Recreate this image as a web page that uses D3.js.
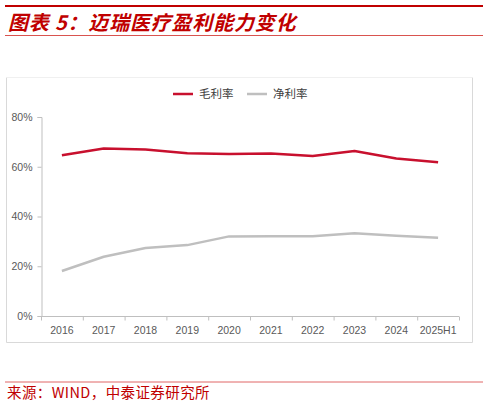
<!DOCTYPE html>
<html>
<head>
<meta charset="utf-8">
<script src="https://cdn.jsdelivr.net/npm/d3@7"></script>
<style>
  body { margin: 0; background: #fff; }
  svg { display: block; }
</style>
</head>
<body>
<div id="chart"></div>
<script>
// data
const years = ['2016', '2017', '2018', '2019', '2020', '2021', '2022', '2023', '2024', '2025H1']
const grossMargin = [64.6, 67.3, 66.9, 65.4, 65.1, 65.3, 64.3, 66.3, 63.3, 61.8]
const netMargin = [18.1, 23.8, 27.3, 28.5, 32.0, 32.1, 32.1, 33.3, 32.3, 31.5]
const yTicks = [0, 20, 40, 60, 80]
const seriesNames = ['毛利率', '净利率']

const W = 488, H = 406
const red = '#c00000'

const svg = d3.select('#chart').append('svg')
  .attr('width', W)
  .attr('height', H)

// header rules + title
svg.append('line')
  .attr('x1', 5).attr('x2', 483).attr('y1', 6).attr('y2', 6)
  .attr('stroke', red).attr('stroke-width', 2)
svg.append('text')
  .attr('x', 8).attr('y', 30)
  .attr('fill', red)
  .style('font-family', '"Noto Sans CJK SC", sans-serif')
  .style('font-size', '20px')
  .style('font-weight', 'bold')
  .style('font-style', 'italic')
  .style('letter-spacing', '0.8px')
  .text('图表 5：迈瑞医疗盈利能力变化')
svg.append('line')
  .attr('x1', 5).attr('x2', 483).attr('y1', 35.5).attr('y2', 35.5)
  .attr('stroke', '#d9534f').attr('stroke-width', 1)

// chart frame (top edge is barely visible in the original)
const frame = { x: 6.5, y: 77.5, w: 466, h: 265 }
svg.append('path')
  .attr('d', `M${frame.x},${frame.y}V${frame.y + frame.h}H${frame.x + frame.w}V${frame.y}`)
  .attr('fill', 'none').attr('stroke', '#d9d9d9')
svg.append('line')
  .attr('x1', frame.x).attr('x2', frame.x + frame.w).attr('y1', frame.y).attr('y2', frame.y)
  .attr('stroke', '#f0f0f0')

const x = d3.scaleBand()
  .domain(years)
  .range([41, 459])
  .padding(0)

const y = d3.scaleLinear()
  .domain([0, 80])
  .range([316, 117])

const axisColor = '#bfbfbf'
const labelFont = '"Liberation Sans", Arial, sans-serif'

// y axis
const yAxis = svg.append('g')
  .attr('transform', 'translate(41.5,0)')
  .call(d3.axisLeft(y).tickValues(yTicks).tickSize(4).tickPadding(5).tickFormat(d => d + '%'))
yAxis.select('.domain').attr('stroke', axisColor)
yAxis.selectAll('.tick line').attr('stroke', axisColor)
yAxis.selectAll('.tick text')
  .attr('fill', '#595959')
  .style('font-family', labelFont)
  .style('font-size', '10.5px')

// x axis: ticks on band edges, labels in band centres
const xAxis = svg.append('g')
  .attr('transform', 'translate(0,316.5)')
xAxis.append('line')
  .attr('x1', x.range()[0]).attr('x2', x.range()[1])
  .attr('stroke', axisColor)
const edges = years.map(d => x(d)).concat([x.range()[1]])
xAxis.selectAll('.edge')
  .data(edges)
  .enter().append('line')
  .attr('class', 'edge')
  .attr('x1', d => d + 0.5).attr('x2', d => d + 0.5)
  .attr('y1', 0).attr('y2', 4)
  .attr('stroke', axisColor)
xAxis.selectAll('.lbl')
  .data(years)
  .enter().append('text')
  .attr('class', 'lbl')
  .attr('x', d => x(d) + x.bandwidth() / 2)
  .attr('y', 17)
  .attr('text-anchor', 'middle')
  .attr('fill', '#595959')
  .style('font-family', labelFont)
  .style('font-size', '10.5px')
  .text(d => d)

// lines
const line = d3.line()
  .x((d, i) => x(years[i]) + x.bandwidth() / 2)
  .y(d => y(d))

const series = [
  { name: seriesNames[0], values: grossMargin, color: '#c8102e' },
  { name: seriesNames[1], values: netMargin, color: '#bfbfbf' }
]

svg.selectAll('.series')
  .data(series)
  .enter().append('path')
  .attr('class', 'series')
  .attr('d', d => line(d.values))
  .attr('fill', 'none')
  .attr('stroke', d => d.color)
  .attr('stroke-width', 2.5)
  .attr('stroke-linejoin', 'round')

// legend
const legend = svg.selectAll('.legend')
  .data(series)
  .enter().append('g')
  .attr('class', 'legend')
  .attr('transform', (d, i) => 'translate(' + (173 + i * 74) + ',94)')
legend.append('line')
  .attr('x1', 0).attr('x2', 20)
  .attr('stroke', d => d.color)
  .attr('stroke-width', 2.5)
legend.append('text')
  .attr('x', 26).attr('y', 4)
  .attr('fill', '#404040')
  .style('font-family', '"Noto Sans CJK SC", sans-serif')
  .style('font-size', '11.5px')
  .text(d => d.name)

// source
svg.append('line')
  .attr('x1', 5).attr('x2', 483).attr('y1', 382).attr('y2', 382)
  .attr('stroke', '#e06666').attr('stroke-width', 1)
svg.append('text')
  .attr('x', 7).attr('y', 398)
  .attr('fill', red)
  .style('font-family', '"Noto Sans CJK SC", sans-serif')
  .style('font-size', '14.5px')
  .style('letter-spacing', '0.4px')
  .text('来源：WIND，中泰证券研究所')
</script>
</body>
</html>
